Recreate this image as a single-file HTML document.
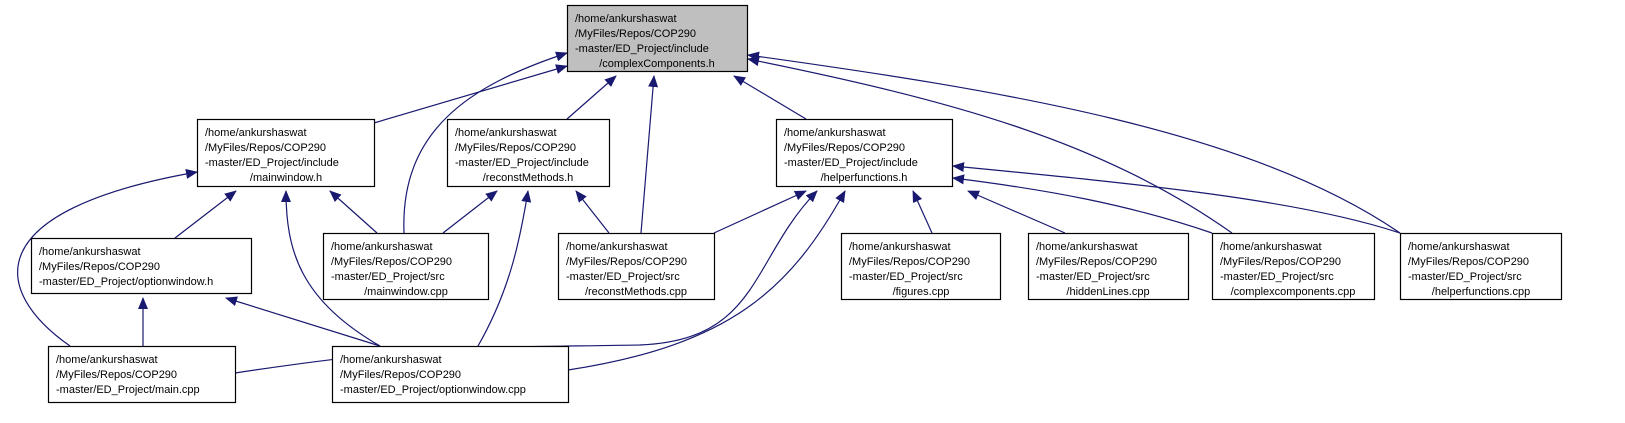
<!DOCTYPE html>
<html><head><style>
html,body{margin:0;padding:0;background:#fff;}
svg{display:block;}
text{font-family:"Liberation Sans",sans-serif;font-size:11px;fill:#000;}
</style></head><body>
<svg width="1625" height="423" viewBox="0 0 1625 423" xmlns="http://www.w3.org/2000/svg">
<defs>
<marker id="a" markerWidth="12" markerHeight="10" refX="11" refY="5" orient="auto" markerUnits="userSpaceOnUse">
<path d="M0,0 L12,5 L0,10 Z" fill="#191970"/>
</marker>
</defs>
<g fill="none" stroke="#191970" stroke-width="1.2" marker-end="url(#a)">
<path d="M374,123 L567,66"/>
<path d="M404,233 C400,130 470,85 567,53"/>
<path d="M567,119 L616,76"/>
<path d="M641,233 L654,76"/>
<path d="M806,119 L734,76"/>
<path d="M1232,233 C1100,140 950,100 748,59"/>
<path d="M1400,233 C1250,130 1000,90 748,55"/>
<path d="M70,346 C-10,290 -20,210 197,172"/>
<path d="M175,238 L236,191"/>
<path d="M380,346 C300,300 286,250 286,191"/>
<path d="M377,233 L330,191"/>
<path d="M443,233 L497,191"/>
<path d="M478,346 C510,290 520,240 528,191"/>
<path d="M609,233 L576,191"/>
<path d="M143,346 L143,298"/>
<path d="M380,346 L226,298"/>
<path d="M714,233 L806,191"/>
<path d="M235,373 C420,345 460,348 640,345 C760,340 750,260 817,191"/>
<path d="M568,370 C730,345 790,290 845,191"/>
<path d="M932,233 L913,191"/>
<path d="M1065,233 L968,191"/>
<path d="M1212,233 C1130,205 1050,190 953,178"/>
<path d="M1400,233 C1300,200 1150,185 953,166"/>
</g>
<g stroke="#000" stroke-width="1.2">
<rect x="567.5" y="5.5" width="180" height="66" fill="#bfbfbf"/>
<rect x="197.5" y="119.5" width="177" height="67" fill="#fff"/>
<rect x="447.5" y="119.5" width="162" height="67" fill="#fff"/>
<rect x="776.5" y="119.5" width="176" height="67" fill="#fff"/>
<rect x="31.5" y="238.5" width="220" height="55" fill="#fff"/>
<rect x="323.5" y="233.5" width="165" height="66" fill="#fff"/>
<rect x="558.5" y="233.5" width="156" height="66" fill="#fff"/>
<rect x="841.5" y="233.5" width="159" height="66" fill="#fff"/>
<rect x="1028.5" y="233.5" width="160" height="66" fill="#fff"/>
<rect x="1212.5" y="233.5" width="162" height="66" fill="#fff"/>
<rect x="1400.5" y="233.5" width="161" height="66" fill="#fff"/>
<rect x="48.5" y="346.5" width="187" height="56" fill="#fff"/>
<rect x="332.5" y="346.5" width="236" height="56" fill="#fff"/>
</g>
<g>
<text x="575" y="22">/home/ankurshaswat</text><text x="575" y="37">/MyFiles/Repos/COP290</text><text x="575" y="52">-master/ED_Project/include</text><text x="657" y="67" text-anchor="middle">/complexComponents.h</text>
<text x="205" y="136">/home/ankurshaswat</text><text x="205" y="151">/MyFiles/Repos/COP290</text><text x="205" y="166">-master/ED_Project/include</text><text x="286" y="181" text-anchor="middle">/mainwindow.h</text>
<text x="455" y="136">/home/ankurshaswat</text><text x="455" y="151">/MyFiles/Repos/COP290</text><text x="455" y="166">-master/ED_Project/include</text><text x="528" y="181" text-anchor="middle">/reconstMethods.h</text>
<text x="784" y="136">/home/ankurshaswat</text><text x="784" y="151">/MyFiles/Repos/COP290</text><text x="784" y="166">-master/ED_Project/include</text><text x="864" y="181" text-anchor="middle">/helperfunctions.h</text>
<text x="39" y="255">/home/ankurshaswat</text><text x="39" y="270">/MyFiles/Repos/COP290</text><text x="39" y="285">-master/ED_Project/optionwindow.h</text>
<text x="331" y="250">/home/ankurshaswat</text><text x="331" y="265">/MyFiles/Repos/COP290</text><text x="331" y="280">-master/ED_Project/src</text><text x="406" y="295" text-anchor="middle">/mainwindow.cpp</text>
<text x="566" y="250">/home/ankurshaswat</text><text x="566" y="265">/MyFiles/Repos/COP290</text><text x="566" y="280">-master/ED_Project/src</text><text x="636" y="295" text-anchor="middle">/reconstMethods.cpp</text>
<text x="849" y="250">/home/ankurshaswat</text><text x="849" y="265">/MyFiles/Repos/COP290</text><text x="849" y="280">-master/ED_Project/src</text><text x="921" y="295" text-anchor="middle">/figures.cpp</text>
<text x="1036" y="250">/home/ankurshaswat</text><text x="1036" y="265">/MyFiles/Repos/COP290</text><text x="1036" y="280">-master/ED_Project/src</text><text x="1108" y="295" text-anchor="middle">/hiddenLines.cpp</text>
<text x="1220" y="250">/home/ankurshaswat</text><text x="1220" y="265">/MyFiles/Repos/COP290</text><text x="1220" y="280">-master/ED_Project/src</text><text x="1293" y="295" text-anchor="middle">/complexcomponents.cpp</text>
<text x="1408" y="250">/home/ankurshaswat</text><text x="1408" y="265">/MyFiles/Repos/COP290</text><text x="1408" y="280">-master/ED_Project/src</text><text x="1481" y="295" text-anchor="middle">/helperfunctions.cpp</text>
<text x="56" y="363">/home/ankurshaswat</text><text x="56" y="378">/MyFiles/Repos/COP290</text><text x="56" y="393">-master/ED_Project/main.cpp</text>
<text x="340" y="363">/home/ankurshaswat</text><text x="340" y="378">/MyFiles/Repos/COP290</text><text x="340" y="393">-master/ED_Project/optionwindow.cpp</text>
</g>
</svg>
</body></html>
